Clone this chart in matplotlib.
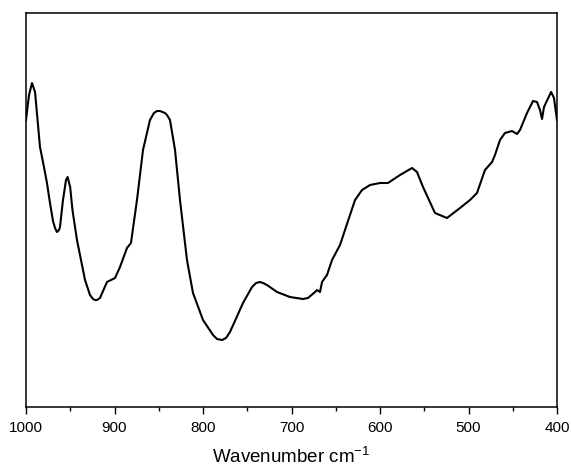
import numpy as np
import matplotlib
matplotlib.use("Agg")
import matplotlib.pyplot as plt
from matplotlib.ticker import MultipleLocator

plt.rcParams["font.family"] = ["Liberation Sans", "DejaVu Sans"]
plt.rcParams["mathtext.fontset"] = "custom"
plt.rcParams["mathtext.rm"] = "Liberation Sans"
plt.rcParams["mathtext.it"] = "Liberation Sans"

# FTIR spectrum (arbitrary transmittance units)
wavenumber = [
    1000.0, 996.6, 993.2, 989.8, 984.2, 979.7, 976.3, 972.9, 969.5, 967.2,
    965.0, 962.7, 961.6, 958.2, 954.8, 953.0, 950.1, 947.5, 942.4, 933.3,
    927.7, 924.3, 922.0, 919.8, 916.4, 908.5, 899.4, 893.8, 885.9, 881.4,
    874.6, 867.8, 859.9, 855.4, 852.0, 848.6, 843.0, 840.7, 837.3, 831.6,
    826.0, 818.1, 811.3, 800.0, 788.7, 784.2, 778.5, 774.0, 769.5, 754.8,
    744.6, 740.1, 735.6, 732.2, 727.7, 716.4, 701.7, 687.0, 681.4, 673.4,
    671.2, 667.8, 665.5, 659.9, 654.2, 645.2, 633.9, 628.2, 620.3, 611.3,
    600.0, 591.0, 577.4, 563.8, 558.2, 551.4, 537.9, 524.3, 509.6, 498.3,
    490.4, 481.4, 473.4, 470.1, 464.4, 458.8, 450.8, 445.2, 441.8, 433.9,
    427.1, 422.6, 419.2, 416.9, 414.7, 406.7, 403.4, 400.0,
]
signal = [
    287, 312, 324, 315, 260, 240, 224, 204, 186, 179,
    175, 177, 180, 207, 227, 230, 220, 197, 167, 127,
    112, 108, 107, 107, 109, 125, 129, 140, 159, 164,
    207, 257, 287, 294, 296, 296, 294, 292, 287, 257,
    207, 147, 114, 87, 72, 68, 67, 69, 75, 104,
    120, 124, 125, 124, 122, 115, 110, 108, 109, 115,
    117, 115, 125, 132, 147, 162, 192, 207, 217, 222,
    224, 224, 232, 239, 235, 220, 194, 189, 199, 207,
    214, 237, 245, 252, 267, 274, 276, 273, 277, 294,
    306, 305, 297, 288, 300, 315, 309, 287,
]

fig, ax = plt.subplots(figsize=(5.71, 4.69), dpi=100)
fig.subplots_adjust(left=26 / 571, right=557 / 571, top=1 - 13 / 469, bottom=1 - 407 / 469)

ax.plot(wavenumber, signal, color="black", lw=1.5, solid_joinstyle="round")

ax.set_xlim(1000, 400)
ax.set_ylim(0, 394)
ax.xaxis.set_major_locator(MultipleLocator(100))
ax.xaxis.set_minor_locator(MultipleLocator(50))
ax.tick_params(axis="x", which="major", direction="out", length=5, width=1.0,
               labelsize=11, pad=5)
ax.tick_params(axis="x", which="minor", direction="out", length=3, width=1.0)
ax.set_yticks([])
for s in ax.spines.values():
    s.set_linewidth(1.1)

ax.set_xlabel(r"Wavenumber cm$^{-1}$", fontsize=13.5, labelpad=9)

fig.savefig("out.png", dpi=100)
